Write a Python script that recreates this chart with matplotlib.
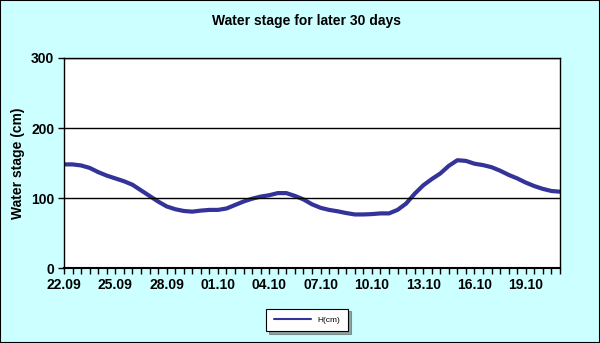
import numpy as np
import matplotlib.pyplot as plt
from matplotlib.patches import Rectangle

plt.rcParams['font.family'] = ['Liberation Sans', 'DejaVu Sans']

# water stage, two readings a day, 22.09 -> 21.10
stage = [148, 148, 146.5, 143, 137, 132, 128, 124, 119, 111,
         103, 95, 88, 84, 81.5, 80.5, 82, 83, 83, 85,
         90, 95, 99, 102, 104, 107, 107, 103, 98, 91,
         86, 83, 81, 78.5, 76.5, 76.5, 77, 78, 78, 83,
         92, 106, 118, 127, 135, 146, 154, 153, 149, 147,
         144, 139, 133, 128, 122, 117, 113, 110, 109]
date_labels = ['22.09', '25.09', '28.09', '01.10', '04.10',
               '07.10', '10.10', '13.10', '16.10', '19.10']
yticks = [0, 100, 200, 300]

bg = '#CCFFFF'
fig = plt.figure(figsize=(6, 3.43), dpi=100, facecolor=bg)
fig.patches.append(Rectangle((0, 0), 1, 1, transform=fig.transFigure,
                             fill=False, edgecolor='black', linewidth=1.5))

ax = fig.add_axes([64/600, 1-268/343, 496/600, 210/343])
ax.set_facecolor('white')

x = np.arange(len(stage))
line, = ax.plot(x, stage, color='#333399', linewidth=3, solid_capstyle='round',
                label='H(cm)')

ax.set_xlim(0, len(stage) - 1)
ax.set_ylim(0, 300)
ax.set_yticks(yticks)
ax.set_yticklabels([str(v) for v in yticks], fontsize=10, fontweight='bold')
for v in yticks[1:]:
    ax.axhline(v, color='black', linewidth=1)

ax.set_xticks(x)
labels = [''] * len(stage)
for k, lab in enumerate(date_labels):
    labels[k * 6] = lab
ax.set_xticklabels(labels, fontsize=10, fontweight='bold')
ax.tick_params(axis='both', direction='out', length=4, width=1, color='black', pad=3)

for s in ax.spines.values():
    s.set_linewidth(1)
    s.set_color('black')
ax.spines['bottom'].set_linewidth(1.5)

ax.set_ylabel('Water stage (cm)', fontsize=10, fontweight='bold', labelpad=4)
fig.text(307/600, 1-21/343, 'Water stage for later 30 days', ha='center', va='center',
         fontsize=10, fontweight='bold')

leg = fig.legend(handles=[line], loc='center', bbox_to_anchor=(307/600, 1-320/343),
                 fontsize=6, frameon=True, fancybox=False, shadow=True,
                 handlelength=4.5, borderpad=0.9, edgecolor='black')
leg.get_frame().set_linewidth(0.8)
leg.get_lines()[0].set_linewidth(1.5)

fig.savefig('out.png', dpi=100, facecolor=bg)
